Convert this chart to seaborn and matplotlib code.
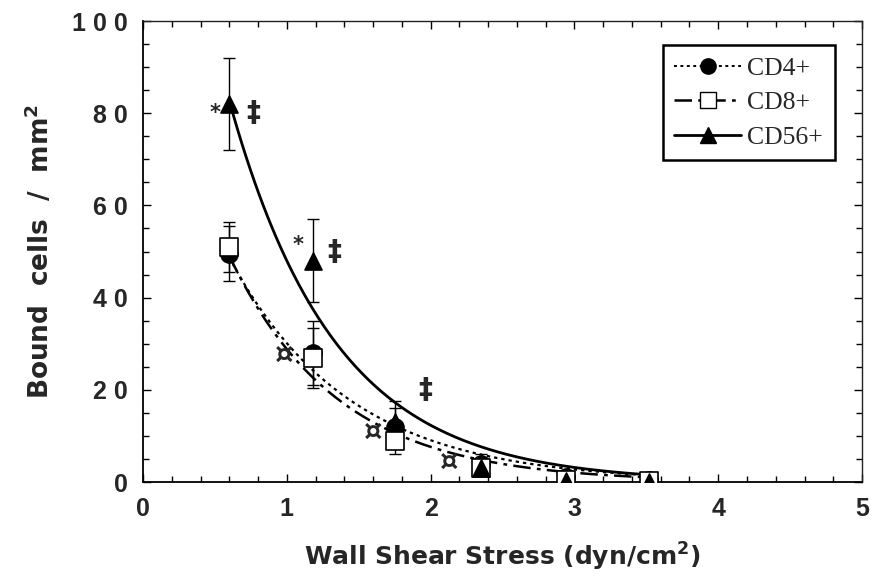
import numpy as np
import pandas as pd
import matplotlib
matplotlib.use("Agg")
import matplotlib.pyplot as plt
from matplotlib.lines import Line2D
from matplotlib.ticker import MultipleLocator
import seaborn as sns

# ---- data ----
stress = [0.60, 1.18, 1.75, 2.35, 2.94, 3.52]
cd4 = [49.5, 28.0, 12.0, 4.0, 1.0, 0.5]
cd4_err = [6.0, 7.0, 4.0, 2.0, 1.0, 0.5]
cd8 = [51.0, 27.0, 9.0, 3.0, 0.5, 0.3]
cd8_err = [5.5, 6.5, 3.0, 1.5, 0.8, 0.3]
cd56 = [82.0, 48.0, 13.0, 3.0, 0.2, 0.0]
cd56_err = [10.0, 9.0, 4.5, 1.5, 0.5, 0.3]

# stray open symbols in the figure
extra_x = [0.98, 1.60, 2.13]
extra_y = [27.5, 10.8, 4.3]

# exponential fit parameters (y = A * exp(-k * x))
fit_A = {"CD4+": 100.0, "CD8+": 109.0, "CD56+": 187.0}
fit_k = {"CD4+": 1.20, "CD8+": 1.33, "CD56+": 1.36}
fit_range = (0.60, 3.52)

# significance marks
mark_x = [0.50, 0.77, 1.08, 1.33, 1.96]
mark_y = [80.0, 80.0, 51.5, 50.0, 20.0]
mark_txt = ["*", "\u2021", "*", "\u2021", "\u2021"]

yticks = [0, 20, 40, 60, 80, 100]
ytick_labels = ["0", "2 0", "4 0", "6 0", "8 0", "1 0 0"]
xticks = [0, 1, 2, 3, 4, 5]

# ---- plotting ----
sns.set_style("ticks")
plt.rcParams["font.family"] = ["Liberation Sans", "DejaVu Sans"]

fig = plt.figure(figsize=(8.71, 5.77), dpi=100)
ax = fig.add_axes([0.1642, 0.1646, 0.8255, 0.799])

styles = {
    "CD4+": dict(ls=(0, (1.5, 1.8)), marker="o", mfc="black", lw=1.6),
    "CD8+": dict(ls=(0, (7, 2.5, 1.5, 2.5)), marker="s", mfc="white", lw=1.8),
    "CD56+": dict(ls="-", marker="^", mfc="black", lw=2.0),
}
series = {"CD4+": (cd4, cd4_err), "CD8+": (cd8, cd8_err), "CD56+": (cd56, cd56_err)}

xs = np.linspace(fit_range[0], fit_range[1], 200)
for name in ["CD4+", "CD8+", "CD56+"]:
    st = styles[name]
    fit_df = pd.DataFrame({"x": xs, "y": fit_A[name] * np.exp(-fit_k[name] * xs)})
    sns.lineplot(data=fit_df, x="x", y="y", ax=ax, color="black",
                 linewidth=st["lw"], linestyle=st["ls"], zorder=2)

for name in ["CD4+", "CD8+", "CD56+"]:
    st = styles[name]
    y, e = series[name]
    ax.errorbar(stress, y, yerr=e, fmt="none", ecolor="black", elinewidth=1.0,
                capsize=4, capthick=1.0, zorder=3)
    df = pd.DataFrame({"x": stress, "y": y})
    sns.scatterplot(data=df, x="x", y="y", ax=ax, marker=st["marker"], s=150,
                    color=st["mfc"], edgecolor="black", linewidth=1.2, zorder=4)

for xx, yy in zip(extra_x, extra_y):
    ax.text(xx, yy, "\u00a4", ha="center", va="center", fontsize=21,
            fontweight="bold", family="DejaVu Sans", zorder=5)

for xx, yy, t in zip(mark_x, mark_y, mark_txt):
    ax.text(xx, yy, t, ha="center", va="center",
            fontsize=15 if t == "*" else 20, fontweight="bold",
            family="DejaVu Sans", zorder=5)

ax.set_xlim(0, 5)
ax.set_ylim(0, 100)
ax.set_xticks(xticks)
ax.set_xticklabels([str(v) for v in xticks])
ax.set_yticks(yticks)
ax.set_yticklabels(ytick_labels)
ax.xaxis.set_minor_locator(MultipleLocator(0.2))
ax.yaxis.set_minor_locator(MultipleLocator(5))
ax.tick_params(which="both", direction="in", color="black", width=1.0,
               top=True, right=True)
ax.tick_params(which="major", length=6, labelsize=18, pad=11)
ax.tick_params(which="minor", length=4)
for lab in ax.get_xticklabels() + ax.get_yticklabels():
    lab.set_fontweight("bold")
for sp in ["left", "bottom"]:
    ax.spines[sp].set_color("black")
    ax.spines[sp].set_linewidth(1.3)
for sp in ["top", "right"]:
    ax.spines[sp].set_visible(True)
    ax.spines[sp].set_color("#222222")
    ax.spines[sp].set_linewidth(1.0)

ax.set_xlabel("Wall Shear Stress (dyn/cm$^\\mathbf{2}$)", fontsize=18,
              fontweight="bold", family="DejaVu Sans", labelpad=14)
ax.set_ylabel("Bound  cells  /  mm$^\\mathbf{2}$", fontsize=19,
              fontweight="bold", family="DejaVu Sans", labelpad=12)

handles = []
for name in ["CD4+", "CD8+", "CD56+"]:
    st = styles[name]
    handles.append(Line2D([], [], color="black", linestyle=st["ls"],
                          linewidth=st["lw"] if name != "CD4+" else 1.4,
                          marker=st["marker"], markersize=11,
                          markerfacecolor=st["mfc"], markeredgecolor="black"))
leg = ax.legend(handles, ["CD4+", "CD8+", "CD56+"], loc="upper right",
                bbox_to_anchor=(0.962, 0.948), frameon=True, fancybox=False,
                framealpha=1, edgecolor="black", handlelength=2.6,
                prop={"family": "Liberation Serif", "size": 18.5},
                borderpad=0.45, labelspacing=0.45, handletextpad=0.25,
                borderaxespad=0.0)
leg.get_frame().set_linewidth(1.8)

fig.savefig("out.png", dpi=100)
